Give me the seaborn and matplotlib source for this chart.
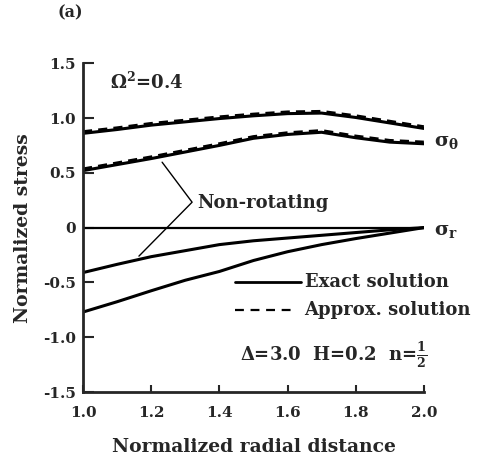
import matplotlib
matplotlib.use("Agg")
from matplotlib import pyplot as plt
import numpy as np
import pandas as pd
import seaborn as sns

r = [1.0, 1.1, 1.2, 1.3, 1.4, 1.5, 1.6, 1.7, 1.8, 1.9, 2.0]

theta_rot = [0.86, 0.895, 0.935, 0.965, 0.995, 1.02, 1.04, 1.045, 1.005, 0.955, 0.905]
theta_rot_approx = [0.875, 0.91, 0.95, 0.98, 1.01, 1.035, 1.055, 1.06, 1.02, 0.97, 0.92]
theta_still = [0.52, 0.575, 0.63, 0.69, 0.75, 0.815, 0.85, 0.87, 0.82, 0.78, 0.765]
theta_still_approx = [0.535, 0.59, 0.645, 0.705, 0.765, 0.83, 0.865, 0.885, 0.835, 0.795, 0.78]
sr_rot = [-0.41, -0.335, -0.265, -0.21, -0.155, -0.12, -0.095, -0.07, -0.045, -0.02, 0.0]
sr_still = [-0.77, -0.676, -0.576, -0.48, -0.40, -0.30, -0.22, -0.155, -0.10, -0.05, 0.0]

series = {
    ("theta_rot", "Exact"): theta_rot,
    ("theta_rot_a", "Approx"): theta_rot_approx,
    ("theta_still", "Exact"): theta_still,
    ("theta_still_a", "Approx"): theta_still_approx,
    ("sr_rot", "Exact"): sr_rot,
    ("sr_still", "Exact"): sr_still,
}
rows = []
for (name, sol), vals in series.items():
    for x, y in zip(r, vals):
        rows.append({"r": x, "stress": y, "curve": name, "solution": sol})
df = pd.DataFrame(rows)

sns.set_style("ticks")
plt.rcParams["font.family"] = ["DejaVu Serif"]
plt.rcParams["font.weight"] = "bold"
plt.rcParams["mathtext.fontset"] = "custom"
plt.rcParams["mathtext.rm"] = "DejaVu Serif:bold"
plt.rcParams["mathtext.it"] = "DejaVu Serif:bold"
plt.rcParams["mathtext.bf"] = "DejaVu Serif:bold"
plt.rcParams["mathtext.default"] = "rm"

f = plt.figure(figsize=(4.8, 4.58), dpi=100)
ax = f.add_axes([0.173, 0.144, 0.71, 0.718])

sns.lineplot(data=df, x="r", y="stress", units="curve", estimator=None,
             style="solution", style_order=["Exact", "Approx"],
             dashes={"Exact": "", "Approx": (3, 2)},
             color="black", linewidth=2.2, legend=False, ax=ax)
ax.axhline(0, color="black", linewidth=1.6)

ax.set_xlim(1.0, 2.0)
ax.set_ylim(-1.5, 1.5)
ax.set_xticks([1.0, 1.2, 1.4, 1.6, 1.8, 2.0])
ax.set_yticks([-1.5, -1.0, -0.5, 0, 0.5, 1.0, 1.5])
ax.set_yticklabels(["-1.5", "-1.0", "-0.5", "0", "0.5", "1.0", "1.5"])
ax.tick_params(direction="in", length=8, width=1.5, labelsize=11)
ax.tick_params(axis="y", pad=5)
ax.tick_params(axis="x", length=5, pad=10)
for s in ["top", "right"]:
    ax.spines[s].set_visible(False)
for s in ["left", "bottom"]:
    ax.spines[s].set_linewidth(2)

ax.set_xlabel("Normalized radial distance", fontsize=13.5, fontweight="bold", labelpad=13)
ax.set_ylabel("Normalized stress", fontsize=13.5, fontweight="bold", labelpad=8)

f.text(0.12, 0.972, "(a)", fontsize=11.5, fontweight="bold", va="center")
ax.text(1.08, 1.33, r"$\Omega^2$=0.4", fontsize=13, va="center")
ax.text(2.03, 0.78, r"$\sigma_\theta$", fontsize=14, va="center", clip_on=False)
ax.text(2.03, -0.03, r"$\sigma_r$", fontsize=14, va="center", clip_on=False)

# callout lines for the non-rotating curves
ax.plot([1.232, 1.32, 1.164], [0.597, 0.232, -0.26], color="black", linewidth=1.0)
ax.text(1.335, 0.225, "Non-rotating", fontsize=13, va="center")

ax.plot([1.445, 1.64], [-0.5, -0.5], color="black", linewidth=2, clip_on=False)
ax.text(1.65, -0.5, "Exact solution", fontsize=13, va="center", clip_on=False)
ax.plot([1.445, 1.62], [-0.755, -0.755], color="black", linewidth=1.6,
        linestyle=(0, (4, 3)), clip_on=False)
ax.text(1.65, -0.755, "Approx. solution", fontsize=13, va="center", clip_on=False)
ax.text(1.46, -1.16, r"$\Delta$=3.0  H=0.2  n=$\frac{1}{2}$", fontsize=13,
        va="center", clip_on=False)

plt.savefig("out.png", dpi=100)
